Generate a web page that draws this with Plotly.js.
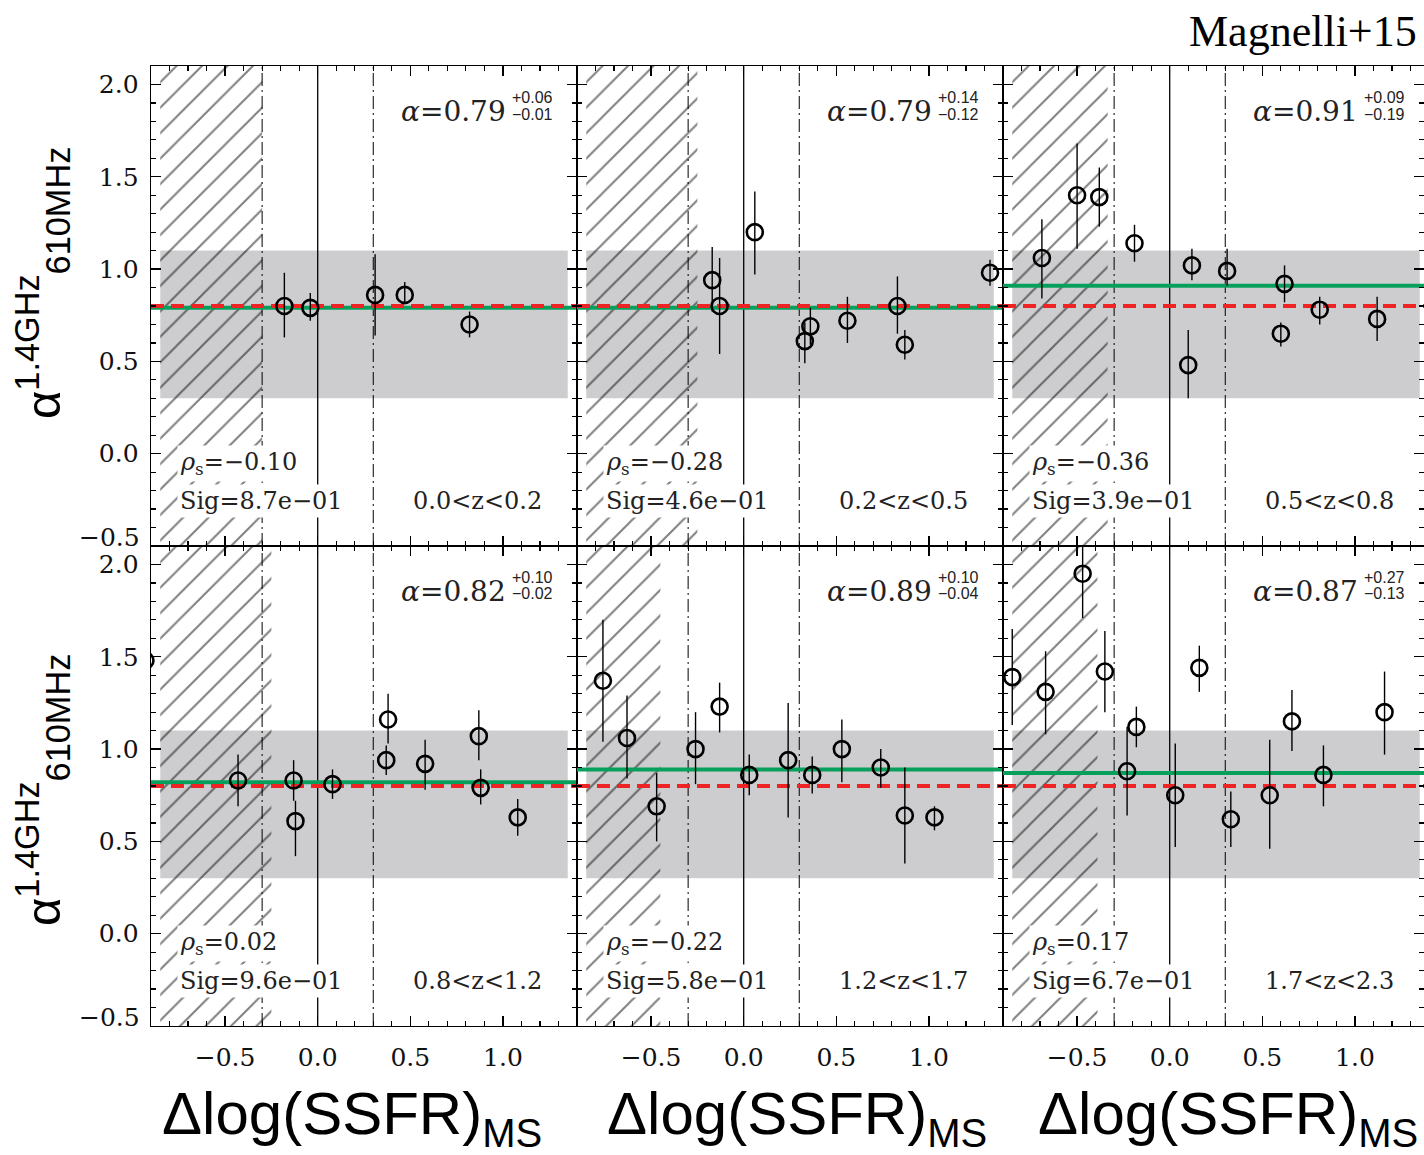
<!DOCTYPE html>
<html><head><meta charset="utf-8">
<script src="https://cdn.plot.ly/plotly-3.0.1.min.js"></script>
<style>body{margin:0;background:#fff}</style>
</head><body><div id="chart" style="width:1424px;height:1155px"></div>
<script>
// ---------- data ----------
const zBins   = ['0.0&lt;z&lt;0.2','0.2&lt;z&lt;0.5','0.5&lt;z&lt;0.8','0.8&lt;z&lt;1.2','1.2&lt;z&lt;1.7','1.7&lt;z&lt;2.3'];
const alphaFit   = [0.79, 0.79, 0.91, 0.82, 0.89, 0.87];
const alphaPlus  = ['+0.06','+0.14','+0.09','+0.10','+0.10','+0.27'];
const alphaMinus = ['−0.01','−0.12','−0.19','−0.02','−0.04','−0.13'];
const rhoS    = ['−0.10','−0.28','−0.36','0.02','−0.22','0.17'];
const sigVals = ['8.7e−01','4.6e−01','3.9e−01','9.6e−01','5.8e−01','6.7e−01'];
const hatchX0 = [-0.85, -0.85, -0.85, -0.85, -0.85, -0.85];
const hatchX1 = [-0.30, -0.25, -0.335, -0.25, -0.45, -0.39];
const refAlpha = 0.8;          // red dashed reference
const bandLo = 0.3, bandHi = 1.1, bandX0 = -0.85, bandX1 = 1.35;
const msLines = [-0.3, 0.3];   // dash-dot lines
const zeroLine = 0.0;

const p1x  = [-0.18, -0.04, 0.31, 0.47, 0.82];
const p1y  = [0.80, 0.79, 0.86, 0.86, 0.70];
const p1hi = [0.98, 0.87, 1.08, 0.93, 0.77];
const p1lo = [0.63, 0.72, 0.64, 0.81, 0.63];

const p2x  = [-0.17, -0.13, 0.06, 0.33, 0.36, 0.56, 0.83, 0.87, 1.33];
const p2y  = [0.94, 0.80, 1.20, 0.61, 0.69, 0.72, 0.80, 0.59, 0.98];
const p2hi = [1.12, 1.06, 1.42, 0.71, 0.79, 0.85, 0.96, 0.67, 1.05];
const p2lo = [0.77, 0.54, 0.97, 0.49, 0.59, 0.60, 0.65, 0.51, 0.91];

const p3x  = [-0.69, -0.50, -0.38, -0.19, 0.10, 0.12, 0.31, 0.62, 0.60, 0.81, 1.12];
const p3y  = [1.06, 1.40, 1.39, 1.14, 0.48, 1.02, 0.99, 0.92, 0.65, 0.78, 0.73];
const p3hi = [1.27, 1.68, 1.55, 1.24, 0.67, 1.11, 1.11, 1.02, 0.71, 0.85, 0.85];
const p3lo = [0.84, 1.11, 1.23, 1.04, 0.30, 0.94, 0.91, 0.82, 0.58, 0.70, 0.61];

const p4x  = [-0.93, -0.43, -0.13, -0.12, 0.08, 0.38, 0.37, 0.58, 0.87, 0.88, 1.08];
const p4y  = [1.48, 0.83, 0.83, 0.61, 0.81, 1.16, 0.94, 0.92, 1.07, 0.79, 0.63];
const p4hi = [1.48, 0.97, 0.94, 0.72, 0.89, 1.30, 1.02, 1.05, 1.21, 0.89, 0.73];
const p4lo = [1.48, 0.69, 0.72, 0.42, 0.73, 1.03, 0.86, 0.78, 0.94, 0.70, 0.53];

const p5x  = [-0.76, -0.63, -0.47, -0.26, -0.13, 0.03, 0.24, 0.37, 0.53, 0.74, 0.87, 1.03];
const p5y  = [1.37, 1.06, 0.69, 1.00, 1.23, 0.86, 0.94, 0.86, 1.00, 0.90, 0.64, 0.63];
const p5hi = [1.70, 1.29, 0.87, 1.20, 1.36, 0.97, 1.25, 0.96, 1.16, 1.00, 0.90, 0.69];
const p5lo = [1.04, 0.84, 0.50, 0.81, 1.09, 0.75, 0.63, 0.76, 0.82, 0.79, 0.38, 0.56];

const p6x  = [-0.85, -0.67, -0.47, -0.35, -0.23, -0.18, 0.03, 0.16, 0.33, 0.54, 0.66, 0.83, 1.16];
const p6y  = [1.39, 1.31, 1.95, 1.42, 0.88, 1.12, 0.75, 1.44, 0.62, 0.75, 1.15, 0.86, 1.20];
const p6hi = [1.65, 1.53, 2.20, 1.64, 1.12, 1.23, 1.03, 1.56, 0.77, 1.05, 1.32, 1.02, 1.42];
const p6lo = [1.13, 1.08, 1.71, 1.20, 0.64, 1.01, 0.47, 1.31, 0.47, 0.46, 0.99, 0.69, 0.97];

const xRangeFull = [-0.9, 1.4];
const xRangeLast = [-0.9, 1.373];
const yRange = [-0.5, 2.1];

// ---------- build ----------
const W = 1424, H = 1155;
const px2x = p => p / W;
const py2y = p => 1 - p / H;
const colPx = [[151, 577], [577, 1003], [1003, 1424]];
const rowPx = [[66, 546], [546, 1026]];

const panels = [
  [p1x, p1y, p1hi, p1lo], [p2x, p2y, p2hi, p2lo], [p3x, p3y, p3hi, p3lo],
  [p4x, p4y, p4hi, p4lo], [p5x, p5y, p5hi, p5lo], [p6x, p6y, p6hi, p6lo]
];

const serif = 'DejaVu Serif';
const sans = 'Liberation Sans';
const traces = [], shapes = [], annotations = [];
const layout = {
  width: W, height: H, margin: {l: 0, r: 0, t: 0, b: 0},
  paper_bgcolor: '#fff', plot_bgcolor: 'rgba(0,0,0,0)', showlegend: false,
  shapes, annotations
};

panels.forEach((p, i) => {
  const col = i % 3, row = Math.floor(i / 3);
  const s = i === 0 ? '' : String(i + 1);
  const xr = col === 2 ? xRangeLast : xRangeFull;
  const xref = 'x' + s, yref = 'y' + s;
  layout['xaxis' + s] = {
    domain: [px2x(colPx[col][0]), px2x(colPx[col][1])], range: xr, anchor: yref,
    showgrid: false, zeroline: false, showline: true, mirror: 'allticks', linewidth: 1.4, linecolor: '#000',
    ticks: 'inside', ticklen: 10, tickwidth: 1.3, tickcolor: '#000', tick0: 0, dtick: 0.5, tickformat: '.1f',
    showticklabels: row === 1, tickfont: {family: serif, size: 25, color: '#111'}, ticklabelstandoff: 9,
    minor: {tick0: 0, dtick: 0.1, ticks: 'inside', ticklen: 5, tickwidth: 1.2, tickcolor: '#000'},
    fixedrange: true
  };
  layout['yaxis' + s] = {
    domain: [py2y(rowPx[row][1]), py2y(rowPx[row][0])], range: yRange, anchor: xref,
    showgrid: false, zeroline: false, showline: true, mirror: 'allticks', linewidth: 1.4, linecolor: '#000',
    ticks: 'inside', ticklen: 10, tickwidth: 1.3, tickcolor: '#000', tick0: 0, dtick: 0.5, tickformat: '.1f',
    showticklabels: col === 0, tickfont: {family: serif, size: 25, color: '#111'}, ticklabelstandoff: 6,
    labelalias: {'−0.5': ' '},
    minor: {tick0: 0, dtick: 0.1, ticks: 'inside', ticklen: 5, tickwidth: 1.2, tickcolor: '#000'},
    fixedrange: true
  };

  // gray band and vertical lines
  shapes.push({type: 'rect', xref, yref, x0: bandX0, x1: bandX1, y0: bandLo, y1: bandHi,
    fillcolor: '#cdcdcf', line: {width: 0}, layer: 'below'});
  shapes.push({type: 'line', xref, yref, x0: zeroLine, x1: zeroLine, y0: yRange[0], y1: yRange[1],
    line: {color: '#000', width: 1.3}, layer: 'below'});
  msLines.forEach(v => shapes.push({type: 'line', xref, yref, x0: v, x1: v, y0: yRange[0], y1: yRange[1],
    line: {color: '#000', width: 1, dash: '13px,4px,2px,4px'}, layer: 'below'}));

  // hatched region
  traces.push({type: 'bar', xaxis: xref, yaxis: yref,
    x: [(hatchX0[i] + hatchX1[i]) / 2], width: [hatchX1[i] - hatchX0[i]],
    y: [yRange[1] - yRange[0]], base: [yRange[0]],
    marker: {color: 'rgba(0,0,0,0)', line: {width: 0},
      pattern: {shape: '/', fgcolor: '#000', bgcolor: 'rgba(0,0,0,0)', size: 18, solidity: 0.11, fillmode: 'overlay'}},
    hoverinfo: 'skip'});

  // fitted alpha (green) and reference (red dashed)
  traces.push({type: 'scatter', mode: 'lines', xaxis: xref, yaxis: yref,
    x: [xr[0], xr[1]], y: [alphaFit[i], alphaFit[i]], line: {color: '#06a05c', width: 4}, hoverinfo: 'skip'});
  traces.push({type: 'scatter', mode: 'lines', xaxis: xref, yaxis: yref,
    x: [xr[0], xr[1]], y: [refAlpha, refAlpha], line: {color: '#ee2424', width: 4, dash: '13px,7px'}, hoverinfo: 'skip'});

  // data points
  const [xs, ys, hi, lo] = p;
  traces.push({type: 'scatter', mode: 'markers', xaxis: xref, yaxis: yref, x: xs, y: ys,
    marker: {symbol: 'circle-open', size: 16, color: '#000', line: {width: 2.6, color: '#000'}},
    error_y: {type: 'data', symmetric: false, array: hi.map((h, k) => h - ys[k]),
      arrayminus: lo.map((l, k) => ys[k] - l), color: '#000', thickness: 1.4, width: 0},
    cliponaxis: true});

  // annotations
  const tf = {family: serif, size: 28, color: '#222'};
  annotations.push({xref, yref, x: 1.03, y: 1.855, xanchor: 'right', yanchor: 'middle',
    text: '<i>α</i>=' + alphaFit[i].toFixed(2), showarrow: false, font: tf});
  annotations.push({xref, yref, x: 1.037, y: 1.927, xanchor: 'left', yanchor: 'middle',
    text: alphaPlus[i], showarrow: false, font: {family: sans, size: 16, color: '#222'}});
  annotations.push({xref, yref, x: 1.037, y: 1.84, xanchor: 'left', yanchor: 'middle',
    text: alphaMinus[i], showarrow: false, font: {family: sans, size: 16, color: '#222'}});
  const sf = {family: serif, size: 24, color: '#222'};
  annotations.push({xref, yref, x: -0.76, y: -0.055, xanchor: 'left', yanchor: 'middle',
    text: '<i>ρ</i><sub>s</sub>=' + rhoS[i], showarrow: false, font: sf, bgcolor: '#fff', borderpad: 2});
  annotations.push({xref, yref, x: -0.76, y: -0.255, xanchor: 'left', yanchor: 'middle',
    text: 'Sig=' + sigVals[i], showarrow: false, font: sf, bgcolor: '#fff', borderpad: 2});
  annotations.push({xref, yref, x: 1.227, y: -0.255, xanchor: 'right', yanchor: 'middle',
    text: zBins[i], showarrow: false, font: sf, bgcolor: '#fff', borderpad: 2});

  // -0.5 y labels, shifted up like the original
  if (col === 0) {
    annotations.push({xref: 'paper', yref, x: px2x(142), y: yRange[0], xanchor: 'right', yanchor: 'middle',
      yshift: 9, text: '−0.5', showarrow: false, font: {family: serif, size: 25, color: '#111'}});
  }
});

// axis titles
[283, 790].forEach(py => annotations.push({xref: 'paper', yref: 'paper', x: px2x(42), y: py2y(py),
  xanchor: 'center', yanchor: 'middle', textangle: -90, showarrow: false,
  text: 'α<sup>1.4GHz</sup><sub>610MHz</sub>', font: {family: sans, size: 49, color: '#000'}}));
[352, 797, 1228].forEach(px => annotations.push({xref: 'paper', yref: 'paper', x: px2x(px), y: py2y(1117),
  xanchor: 'center', yanchor: 'middle', showarrow: false,
  text: 'Δlog(SSFR)<sub><span style="font-size:40px">MS</span></sub>', font: {family: sans, size: 60, color: '#000'}}));
annotations.push({xref: 'paper', yref: 'paper', x: px2x(1419), y: py2y(32), xanchor: 'right', yanchor: 'middle',
  showarrow: false, text: 'Magnelli+15', font: {family: 'Liberation Serif', size: 44, color: '#000'}});

Plotly.newPlot('chart', traces, layout, {staticPlot: true});
</script></body></html>
